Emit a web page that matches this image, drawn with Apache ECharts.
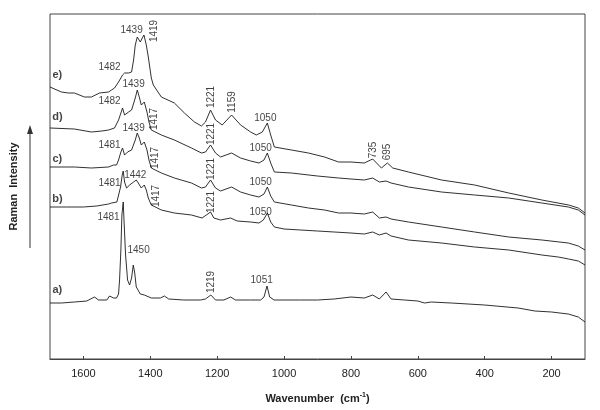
<!DOCTYPE html>
<html><head><meta charset="utf-8">
<script src="https://cdn.jsdelivr.net/npm/echarts@6/dist/echarts.min.js"></script>
<style>html,body{margin:0;padding:0;background:#fff}#c{width:600px;height:410px}</style>
</head><body><div id="c"></div>
<script>
// Wavenumber (cm-1) vs Raman intensity (arbitrary units)
const traceA = [[1700,56],[1666,56],[1627,57],[1590,58],[1567,62],[1555,59],[1530,59],[1522,63],[1510,61],[1501,61],[1495,65],[1492,79],[1488,109],[1485,144],[1481,157],[1478,134],[1474,104],[1468,79],[1462,74],[1456,81],[1451,94],[1447,87],[1442,72],[1430,65],[1418,64],[1397,61],[1370,61],[1358,63],[1345,60],[1300,59],[1250,59],[1235,60],[1219,64],[1205,59],[1180,59],[1160,62],[1145,59],[1100,59],[1070,59],[1060,62],[1051,73],[1043,62],[1030,59],[1000,59],[950,59],[900,59],[850,60],[800,62],[760,61],[735,64],[715,60],[695,67],[680,60],[640,59],[600,58],[580,56],[560,57],[500,56],[400,54],[300,51],[250,48],[200,47],[150,45],[120,42],[100,37]];
const traceB = [[1700,152],[1650,152],[1600,152],[1560,153],[1525,155],[1516,156],[1500,157],[1495,159],[1489,172],[1484,184],[1481,188],[1477,177],[1471,171],[1462,174],[1450,177],[1442,179],[1436,176],[1427,171],[1418,174],[1412,169],[1406,161],[1397,154],[1367,149],[1328,146],[1277,144],[1245,141],[1220,147],[1210,141],[1190,139],[1160,141],[1140,138],[1100,137],[1075,136],[1062,139],[1050,146],[1040,137],[1029,132],[1000,130],[950,129],[900,128],[850,127],[800,126],[760,125],[735,127],[715,124],[695,126],[680,123],[628,119],[529,116],[430,112],[328,109],[229,104],[180,102],[149,100],[120,98],[100,94]];
const traceC = [[1700,192],[1627,192],[1576,191],[1525,192],[1510,194],[1501,194],[1495,199],[1488,207],[1483,211],[1477,204],[1468,207],[1456,209],[1445,219],[1439,226],[1433,221],[1427,214],[1418,217],[1410,209],[1404,199],[1397,191],[1367,186],[1328,181],[1277,176],[1247,171],[1235,172],[1220,179],[1205,171],[1190,168],[1157,172],[1130,167],[1100,164],[1075,162],[1060,165],[1050,172],[1040,163],[1029,157],[978,154],[927,151],[879,149],[837,146],[800,146],[760,145],[735,147],[715,141],[695,142],[680,140],[628,137],[529,132],[430,127],[328,122],[229,119],[150,116],[120,113],[100,109]];
const traceD = [[1700,231],[1627,230],[1576,227],[1545,228],[1525,229],[1507,231],[1495,239],[1487,247],[1483,251],[1477,244],[1465,247],[1456,249],[1445,261],[1439,269],[1433,262],[1427,254],[1418,257],[1410,247],[1404,237],[1397,229],[1367,224],[1328,219],[1277,211],[1247,206],[1235,207],[1220,214],[1205,206],[1190,202],[1157,206],[1130,201],[1100,198],[1075,196],[1060,199],[1050,206],[1040,196],[1029,187],[978,186],[900,183],[837,181],[800,180],[760,179],[735,181],[715,177],[695,178],[680,176],[628,172],[529,167],[430,164],[328,161],[229,156],[150,152],[120,149],[100,144]];
const traceE = [[1700,272],[1666,267],[1645,266],[1627,266],[1597,262],[1576,262],[1552,266],[1525,267],[1516,269],[1507,271],[1495,277],[1483,284],[1477,286],[1465,286],[1456,287],[1450,299],[1445,314],[1439,322],[1430,317],[1424,321],[1419,324],[1412,314],[1406,302],[1397,281],[1391,274],[1367,262],[1328,256],[1298,246],[1268,237],[1247,233],[1235,237],[1220,249],[1205,239],[1185,234],[1157,244],[1130,234],[1100,227],[1083,224],[1065,227],[1050,236],[1040,224],[1029,212],[978,209],[927,206],[879,202],[837,197],[800,197],[760,196],[735,200],[709,191],[691,196],[675,191],[628,187],[529,179],[430,174],[328,166],[229,159],[149,154],[120,151],[100,146]];

const traceNames = ['a)','b)','c)','d)','e)'];
const traceNameValues = [69,160,200,242,284];
const traceNameWn = 1678;
// peak labels: [wavenumber, intensity, text, rotated]
const peakLabels = [
  [1456,329,'1439',0],[1388,328,'1419',1],[1522,292,'1482',0],
  [1450,275,'1439',0],[1522,258,'1482',0],[1388,240,'1417',1],
  [1450,231,'1439',0],[1522,214,'1481',0],[1385,201,'1417',1],
  [1445,184,'1442',0],[1522,176,'1481',0],[1381,163,'1417',1],
  [1525,142,'1481',0],[1435,109,'1450',0],
  [1217,262,'1221',1],[1154,257,'1159',1],[1056,241,'1050',0],
  [1217,225,'1221',1],[1070,211,'1050',0],
  [1217,190,'1221',1],[1070,177,'1050',0],
  [1217,157,'1221',1],[1070,147,'1050',0],
  [1217,77,'1219',1],[1067,79,'1051',0],
  [732,209,'735',1],[690,207,'695',1]
];
const xTicks = [200,400,600,800,1000,1200,1400,1600];

const chart = echarts.init(document.getElementById('c'));
const font = 'Liberation Sans, Arial, sans-serif';
const traces = [traceA,traceB,traceC,traceD,traceE];
const series = traces.map((t,i)=>({
  type:'line', data:t, showSymbol:false, symbol:'none',
  lineStyle:{color:'#1a1a1a',width:0.9}, silent:true, z:2
}));
series.push({
  type:'scatter', symbolSize:0, silent:true, z:3,
  data: peakLabels.map(p=>({
    value:[p[0],p[1]],
    label:{show:true, position:'inside', formatter:p[2], rotate:p[3]?90:0,
      fontSize:10, color:'#111', fontFamily:font}
  }))
});
series.push({
  type:'scatter', symbolSize:0, silent:true, z:3,
  data: traceNames.map((n,i)=>({value:[traceNameWn,traceNameValues[i]],
    label:{show:true, position:'inside', formatter:n, fontSize:11, fontWeight:'bold', color:'#111', fontFamily:font}}))
});

chart.setOption({
  animation:false,
  grid:{left:48,right:15,top:14,bottom:51,show:true,borderColor:'#444',borderWidth:1},
  xAxis:{type:'value', inverse:true, min:100, max:1700,
    axisLine:{show:true,lineStyle:{color:'#444'}},
    axisTick:{show:true, inside:true, length:3, customValues:xTicks, lineStyle:{color:'#444'}},
    axisLabel:{customValues:xTicks, formatter:v=>String(v), fontSize:11, color:'#222', fontFamily:font, margin:9},
    splitLine:{show:false},
    name:'Wavenumber  (cm{sup|-1})', nameLocation:'middle', nameGap:33,
    nameTextStyle:{fontSize:11, fontWeight:'bold', color:'#222', fontFamily:font,
      rich:{sup:{fontSize:7, fontWeight:'bold', color:'#222', padding:[0,0,7,0], fontFamily:font}}}
  },
  yAxis:{type:'value', min:0, max:345,
    axisLine:{show:false}, axisTick:{show:false}, axisLabel:{show:false}, splitLine:{show:false},
    name:'Raman  Intensity', nameLocation:'middle', nameGap:31, nameRotate:90,
    nameTextStyle:{fontSize:11, fontWeight:'bold', color:'#222', fontFamily:font}
  },
  graphic:[
    {type:'line', shape:{x1:30,y1:248,x2:30,y2:130}, style:{stroke:'#333',lineWidth:1}},
    {type:'polygon', shape:{points:[[30,125],[27,134],[33,134]]}, style:{fill:'#333'}}
  ],
  series:series
});
</script></body></html>
